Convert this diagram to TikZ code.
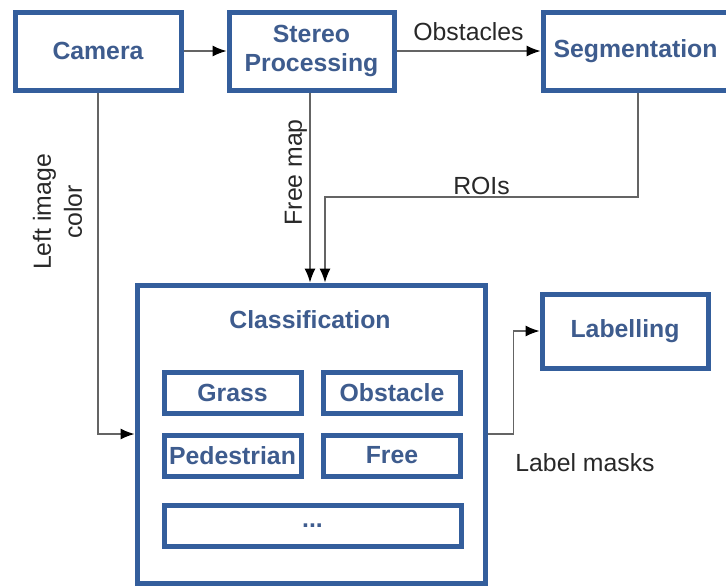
\documentclass[tikz,border=0pt]{standalone}
\usepackage{fontspec}
\setmainfont{Liberation Sans}
\usetikzlibrary{arrows.meta,positioning}
\definecolor{boxblue}{RGB}{52,94,156}
\definecolor{textblue}{RGB}{62,92,142}
\definecolor{wiregray}{RGB}{100,100,100}
\definecolor{labelgray}{RGB}{40,40,40}

\begin{document}
\begin{tikzpicture}[x=0.5pt,y=-0.5pt,line join=miter,
  boxtext/.style={text=textblue,font=\fontsize{12.4}{14.5}\selectfont\bfseries,align=center,inner sep=0pt},
  blockbox/.style={boxtext,draw=boxblue,line width=2.5pt,fill=white},
  subbox/.style={blockbox,minimum width=68.5pt,minimum height=20.5pt},
  wire/.style={wiregray,line width=0.6pt,-{Latex[length=7pt,width=5.5pt,color=black]}},
  wirelabel/.style={text=labelgray,font=\fontsize{12.4}{15.5}\selectfont,inner sep=0pt,align=center}]
 \useasboundingbox (0,0) rectangle (726,586);
 % Obere Reihe der Verarbeitungsschritte.
 \node[blockbox,minimum width=83pt,minimum height=39pt] (camera) at (98,51) {Camera};
 \node[blockbox,minimum width=82.5pt,minimum height=39pt] (stereo) at (311.5,51) {Stereo\\Processing};
 \node[blockbox,minimum width=92.5pt,minimum height=39pt] (seg) at (635.5,51) {Segmentation};
 % Klassifikation mit ihren Klassen.
 \node[blockbox,minimum width=174pt,minimum height=149pt] (classif) at (311,434) {};
 \node[boxtext] (classtitle) at (310,320) {Classification};
 \node[subbox] (grass) at (232.5,392.5) {Grass};
 \node[subbox] (obst) at (392,392.5) {Obstacle};
 \node[subbox] (ped) at (232.5,455.5) {Pedestrian};
 \node[subbox] (free) at (392,455.5) {Free};
 \node[subbox,minimum width=148.5pt] (more) at (312.5,525.5) {\raisebox{-2pt}{...}};
 \node[blockbox,minimum width=83pt,minimum height=37pt] (label) at (625,331) {Labelling};
 % Verbindungen.
 \draw[wire] (camera.east) -- (stereo.west);
 \draw[wire] (stereo.east) -- node[wirelabel,above=5pt] {Obstacles} (seg.west);
 \draw[wire] (camera.south) |- node[wirelabel,pos=0.175,rotate=90,anchor=south,outer sep=8pt] {Left image\\color} (classif.west);
 \draw[wire] ([xshift=-0.75pt]stereo.south) -- node[wirelabel,pos=0.42,rotate=90,anchor=south,outer sep=1.5pt] {Free map} ([xshift=-0.75pt]stereo.south |- classif.north);
 \coordinate (roiturn) at (325,197);
 \draw[wire] ([xshift=1.25pt]seg.south) |- node[wirelabel,pos=0.75,above=1pt] {ROIs} (roiturn) -- (roiturn |- classif.north);
 \draw[wire] (classif.east) -- ++(26,0) |- (label.west);
 \node[wirelabel] (masks) at (585,463) {Label masks};
\end{tikzpicture}
\end{document}
